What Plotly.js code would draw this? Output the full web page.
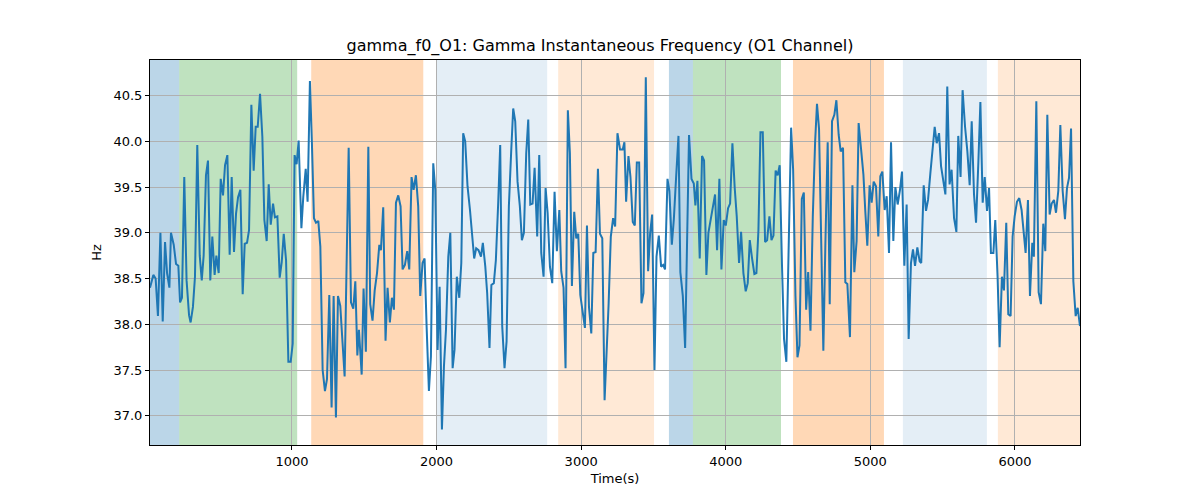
<!DOCTYPE html>
<html>
<head>
<meta charset="utf-8">
<script src="https://cdn.plot.ly/plotly-3.0.1.min.js"></script>
<style>body{margin:0;background:#fff}#plot{width:1200px;height:500px}</style>
</head>
<body>
<div id="plot"></div>
<script>
const time = [18,41,57,73,90,106,122,136,152,163,182,198,214,226,239,255,271,288,299,315,329,345,362,376,389,405,419,435,449,465,477,493,507,523,537,553,569,583,599,613,627,643,659,673,689,703,719,735,749,763,779,795,809,825,839,853,869,882,899,915,929,943,959,975,991,1005,1018,1032,1046,1065,1078,1095,1108,1124,1138,1152,1166,1182,1196,1212,1228,1242,1258,1274,1288,1304,1318,1334,1350,1364,1392,1408,1424,1438,1452,1463,1482,1495,1511,1528,1541,1557,1572,1588,1604,1615,1631,1647,1661,1677,1691,1705,1719,1735,1751,1765,1781,1797,1811,1827,1841,1857,1873,1887,1903,1917,1931,1947,1961,1977,1991,2007,2021,2037,2051,2065,2081,2095,2111,2124,2140,2157,2171,2184,2198,2214,2231,2247,2260,2274,2290,2307,2320,2337,2350,2366,2379,2396,2410,2426,2440,2454,2470,2484,2500,2516,2530,2544,2560,2576,2590,2604,2620,2634,2648,2664,2678,2696,2710,2724,2740,2754,2768,2784,2800,2816,2832,2849,2862,2878,2892,2908,2922,2936,2952,2966,2980,2994,3010,3026,3040,3054,3070,3084,3100,3116,3130,3146,3162,3178,3190,3205,3221,3235,3251,3269,3287,3299,3311,3327,3341,3357,3371,3385,3401,3417,3431,3447,3463,3477,3491,3507,3521,3537,3553,3567,3580,3597,3610,3627,3641,3656,3673,3686,3703,3719,3733,3746,3763,3779,3790,3804,3820,3836,3850,3866,3880,3896,3912,3926,3940,3956,3970,3986,4000,4016,4030,4046,4062,4076,4092,4106,4122,4138,4152,4166,4182,4198,4212,4226,4240,4256,4272,4286,4302,4316,4330,4345,4359,4373,4389,4403,4419,4435,4452,4466,4482,4496,4510,4526,4540,4556,4570,4586,4602,4618,4631,4645,4661,4675,4689,4705,4719,4735,4751,4765,4781,4795,4811,4827,4841,4855,4859,4876,4889,4905,4919,4935,4952,4965,4979,4995,5009,5023,5039,5055,5069,5083,5099,5113,5129,5143,5159,5173,5189,5205,5219,5235,5251,5265,5281,5295,5309,5325,5341,5352,5369,5385,5399,5415,5431,5445,5459,5475,5489,5505,5519,5532,5548,5562,5579,5595,5608,5624,5638,5655,5671,5687,5701,5717,5731,5747,5761,5777,5791,5807,5821,5834,5851,5864,5880,5894,5910,5924,5940,5954,5970,5984,5998,6014,6030,6046,6060,6074,6090,6104,6120,6131,6148,6164,6180,6196,6210,6224,6240,6254,6270,6284,6300,6314,6330,6346,6360,6374,6388,6404,6420,6434,6450];
const freq = [38.40,38.54,38.50,38.09,39.00,38.03,38.90,38.56,38.40,39.00,38.87,38.66,38.64,38.24,38.29,39.61,38.48,38.10,38.02,38.19,38.52,39.96,38.75,38.48,38.75,39.63,39.79,38.48,38.96,38.54,38.75,38.56,39.59,39.41,39.74,39.85,38.76,39.61,38.79,39.21,39.39,39.47,38.33,38.88,38.89,39.03,40.40,39.68,40.16,40.16,40.52,40.05,39.14,38.91,39.53,39.09,39.32,39.17,39.18,38.51,38.68,38.99,38.70,37.59,37.59,37.79,39.85,39.75,40.01,39.05,39.39,39.70,39.34,40.66,39.97,39.16,39.11,39.13,38.85,37.50,37.27,37.40,38.32,37.09,38.31,36.98,38.31,38.20,37.79,37.43,39.93,38.24,38.17,38.47,37.66,37.94,37.45,38.39,37.70,39.94,38.22,38.04,38.37,38.56,38.87,38.81,39.28,37.82,38.40,38.02,38.29,38.16,39.33,39.41,39.29,38.60,38.65,38.80,38.60,39.61,39.47,39.63,39.29,38.31,38.67,38.72,37.98,37.27,37.65,39.76,39.47,37.72,38.41,36.85,37.54,37.94,38.74,39.00,37.52,37.72,38.52,38.29,38.67,40.09,40.00,39.51,39.25,39.00,38.72,38.83,38.81,38.74,38.89,38.63,38.34,37.74,38.43,38.45,38.70,39.32,39.96,37.98,37.52,37.81,39.29,39.89,40.36,40.22,39.56,39.29,38.92,39.00,39.87,40.24,39.31,39.32,39.71,38.96,39.85,38.78,38.52,39.49,39.22,38.63,38.45,39.45,38.80,39.25,38.58,38.40,37.52,40.34,39.87,38.42,39.23,38.94,38.99,38.32,38.12,37.96,39.08,38.19,37.90,38.78,38.79,39.70,38.99,38.94,37.17,37.72,38.23,38.96,39.16,39.07,40.09,39.91,39.91,39.99,39.34,39.84,39.61,39.12,39.08,39.77,39.77,38.23,38.34,40.70,38.58,39.00,39.20,37.50,38.74,38.97,38.63,38.65,38.60,39.59,39.46,38.87,39.15,39.59,40.06,38.57,38.31,37.74,39.12,40.07,39.59,39.54,39.30,39.57,38.72,39.84,39.79,38.54,39.00,39.14,39.27,39.42,38.81,39.59,38.60,39.14,39.08,39.27,39.32,39.98,39.49,39.18,38.67,39.01,38.56,38.36,38.45,38.92,38.72,38.55,38.56,39.03,40.10,40.10,38.90,38.92,39.18,38.92,38.97,39.68,39.63,39.74,38.64,37.84,37.59,38.77,40.15,39.69,38.31,37.64,37.77,39.37,39.44,38.16,38.57,37.93,39.18,39.99,40.41,40.14,38.96,37.71,38.88,39.99,38.22,40.22,40.29,40.45,40.07,39.89,39.93,38.46,38.44,37.88,37.86,39.52,38.57,38.91,40.20,39.93,39.64,39.24,38.86,39.52,39.33,39.56,39.51,38.96,39.62,39.67,39.25,39.40,38.78,39.99,38.91,39.50,39.31,39.47,39.67,38.64,39.31,37.84,38.67,38.82,38.64,38.84,38.69,38.67,39.52,39.24,39.36,39.65,39.89,40.16,39.98,40.09,39.73,39.56,39.42,40.60,39.53,39.69,39.16,39.01,40.06,39.61,40.56,40.16,39.89,39.52,40.22,39.42,39.11,39.77,40.43,39.33,39.61,39.24,39.49,38.78,38.78,39.14,38.52,37.75,38.52,38.37,39.11,38.11,38.09,38.96,39.18,39.34,39.38,39.25,39.00,38.78,39.36,38.31,38.89,38.74,40.44,38.35,38.22,39.10,38.80,40.29,39.20,39.32,39.36,39.22,39.46,40.18,39.46,39.15,39.49,39.60,40.14,38.47,38.09,38.18,37.98];

// shaded segments
const spanStart = [18,220,1133,1998,2841,3607,3773,4465,5225,5882];
const spanEnd = [220,1036,1908,2765,3504,3773,4382,5094,5806,6450];
const spanColor = ['rgba(31,119,180,0.3)','rgba(44,160,44,0.3)','rgba(255,127,14,0.3)','rgba(31,119,180,0.12)','rgba(255,127,14,0.17)','rgba(31,119,180,0.3)','rgba(44,160,44,0.3)','rgba(255,127,14,0.3)','rgba(31,119,180,0.12)','rgba(255,127,14,0.17)'];

const shapes = spanStart.map((s, i) => ({
    type: 'rect', xref: 'x', yref: 'paper', x0: s, x1: spanEnd[i], y0: 0, y1: 1,
    fillcolor: spanColor[i], line: {width: 0}, layer: 'below'
}));

const trace = {x: time, y: freq, mode: 'lines', type: 'scatter', line: {color: '#1f77b4', width: 2}};

const axisStyle = {
    showgrid: true, gridcolor: '#b0b0b0', gridwidth: 1, zeroline: false,
    showline: true, linecolor: 'black', linewidth: 1, mirror: true,
    ticks: 'outside', ticklen: 4, tickcolor: 'black',
    tickfont: {size: 13, color: 'black'}
};

const layout = {
    width: 1200, height: 500,
    margin: {l: 150, r: 120, t: 60, b: 55},
    font: {family: 'DejaVu Sans', color: 'black'},
    paper_bgcolor: 'white', plot_bgcolor: 'white',
    showlegend: false,
    title: {text: 'gamma_f0_O1: Gamma Instantaneous Frequency (O1 Channel)', font: {size: 16}, x: 0.5, xanchor: 'center', y: 0.92},
    xaxis: Object.assign({}, axisStyle, {range: [18, 6450], tickvals: [1000, 2000, 3000, 4000, 5000, 6000],
        title: {text: 'Time(s)', font: {size: 13}, standoff: 6}}),
    yaxis: Object.assign({}, axisStyle, {range: [36.68, 40.89], dtick: 0.5, tickformat: '.1f',
        title: {text: 'Hz', font: {size: 13}, standoff: 8}}),
    shapes: shapes
};

Plotly.newPlot('plot', [trace], layout, {displayModeBar: false});
</script>
</body>
</html>
